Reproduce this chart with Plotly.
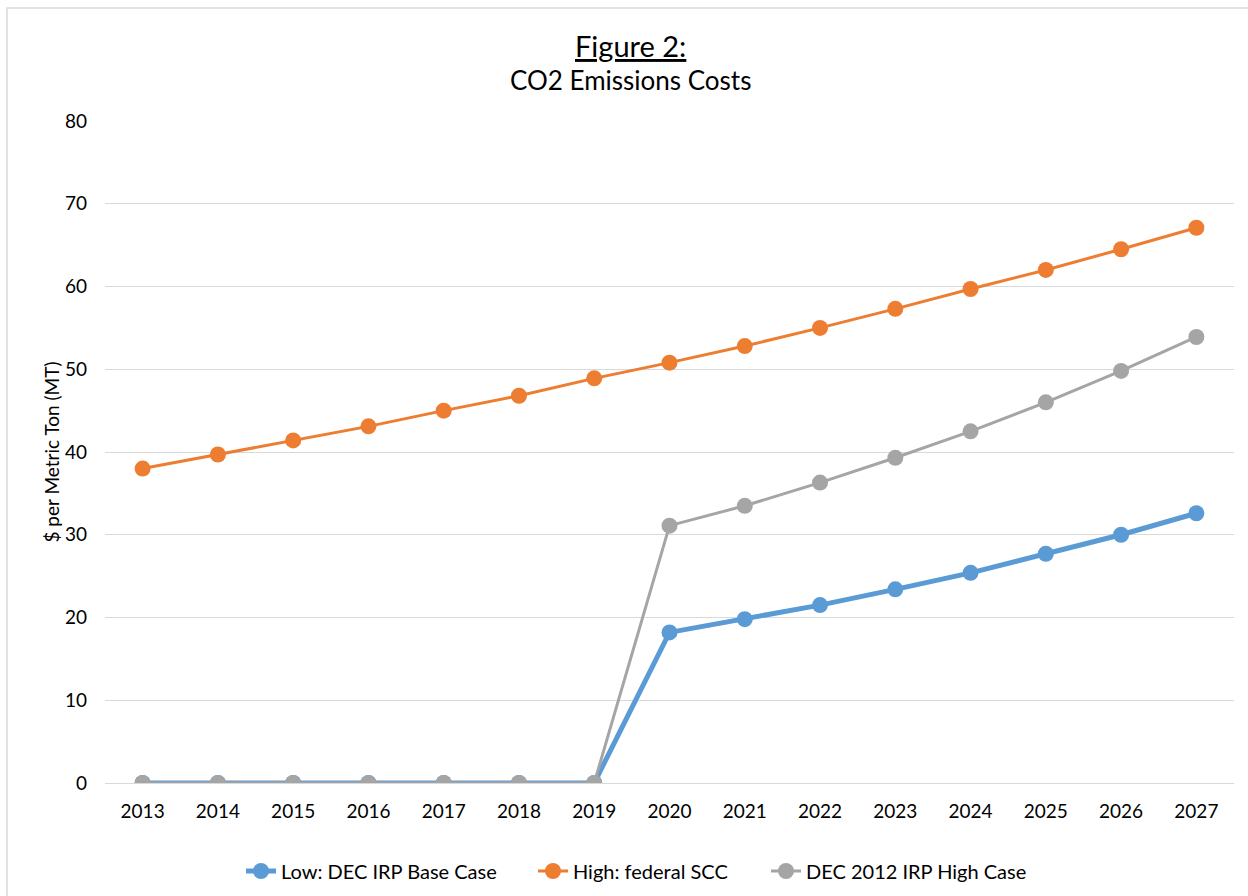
import plotly.graph_objects as go

years = [str(y) for y in range(2013, 2028)]
low_base = [0, 0, 0, 0, 0, 0, 0, 18.2, 19.8, 21.5, 23.4, 25.4, 27.7, 30.0, 32.6]
high_scc = [38.0, 39.7, 41.4, 43.1, 45.0, 46.8, 48.9, 50.8, 52.8, 55.0, 57.3, 59.7, 62.0, 64.5, 67.1]
dec_high = [0, 0, 0, 0, 0, 0, 0, 31.1, 33.5, 36.3, 39.3, 42.5, 46.0, 49.8, 53.9]
y_ticks = [0, 10, 20, 30, 40, 50, 60, 70, 80]

FONT = "Lato"
L, R, T, B = 105, 14, 121, 113
W, H = 1248, 896
pw, ph = W - L - R, H - T - B

def px(x):
    return (x - L) / pw

def py(y):
    return (H - B - y) / ph

fig = go.Figure()
fig.add_trace(go.Scatter(x=years, y=low_base, name="Low: DEC IRP Base Case",
                         mode="lines+markers", legend="legend",
                         line=dict(color="#5B9BD5", width=5),
                         marker=dict(color="#5B9BD5", size=16)))
fig.add_trace(go.Scatter(x=years, y=high_scc, name="High: federal SCC",
                         mode="lines+markers", legend="legend2",
                         line=dict(color="#ED7D31", width=3),
                         marker=dict(color="#ED7D31", size=16)))
fig.add_trace(go.Scatter(x=years, y=dec_high, name="DEC 2012 IRP High Case",
                         mode="lines+markers", legend="legend3",
                         line=dict(color="#A5A5A5", width=3),
                         marker=dict(color="#A5A5A5", size=16)))

def leg(xpix):
    return dict(orientation="h", x=px(xpix), xanchor="left", y=py(871), yanchor="middle",
                font=dict(family=FONT, size=20), bgcolor="rgba(0,0,0,0)",
                itemwidth=30, borderwidth=0)

fig.update_layout(
    width=W, height=H,
    margin=dict(l=L, r=R, t=T, b=B, autoexpand=False),
    paper_bgcolor="white", plot_bgcolor="white",
    font=dict(family=FONT, size=19, color="#000000"),
    showlegend=True,
    legend=leg(241), legend2=leg(533), legend3=leg(766),
    xaxis=dict(type="category", range=[-0.5, 14.5], showgrid=False,
               showline=True, linecolor="#D9D9D9", linewidth=1,
               ticks="", tickfont=dict(size=19), ticklabelstandoff=11,
               zeroline=False, automargin=False),
    yaxis=dict(range=[0, 80], tickvals=y_ticks, showgrid=True, gridcolor="#D9D9D9",
               gridwidth=1, zeroline=False, showline=False, ticks="",
               tickfont=dict(size=19), ticklabelstandoff=17, automargin=False,
               title=dict(text="$ per Metric Ton (MT)", font=dict(size=19), standoff=0)),
    annotations=[
        dict(text="<u>Figure 2:</u>", xref="paper", yref="paper", x=px(630), y=py(45),
             xanchor="center", yanchor="middle", showarrow=False,
             font=dict(family=FONT, size=29)),
        dict(text="CO2 Emissions Costs", xref="paper", yref="paper", x=px(630), y=py(80),
             xanchor="center", yanchor="middle", showarrow=False,
             font=dict(family=FONT, size=26)),
    ],
    shapes=[dict(type="rect", xref="paper", yref="paper",
                 x0=px(7), x1=px(1260), y0=py(908), y1=py(8),
                 line=dict(color="#D9D9D9", width=1.5), fillcolor="rgba(0,0,0,0)", layer="below")],
)
fig.write_html("out.html")
